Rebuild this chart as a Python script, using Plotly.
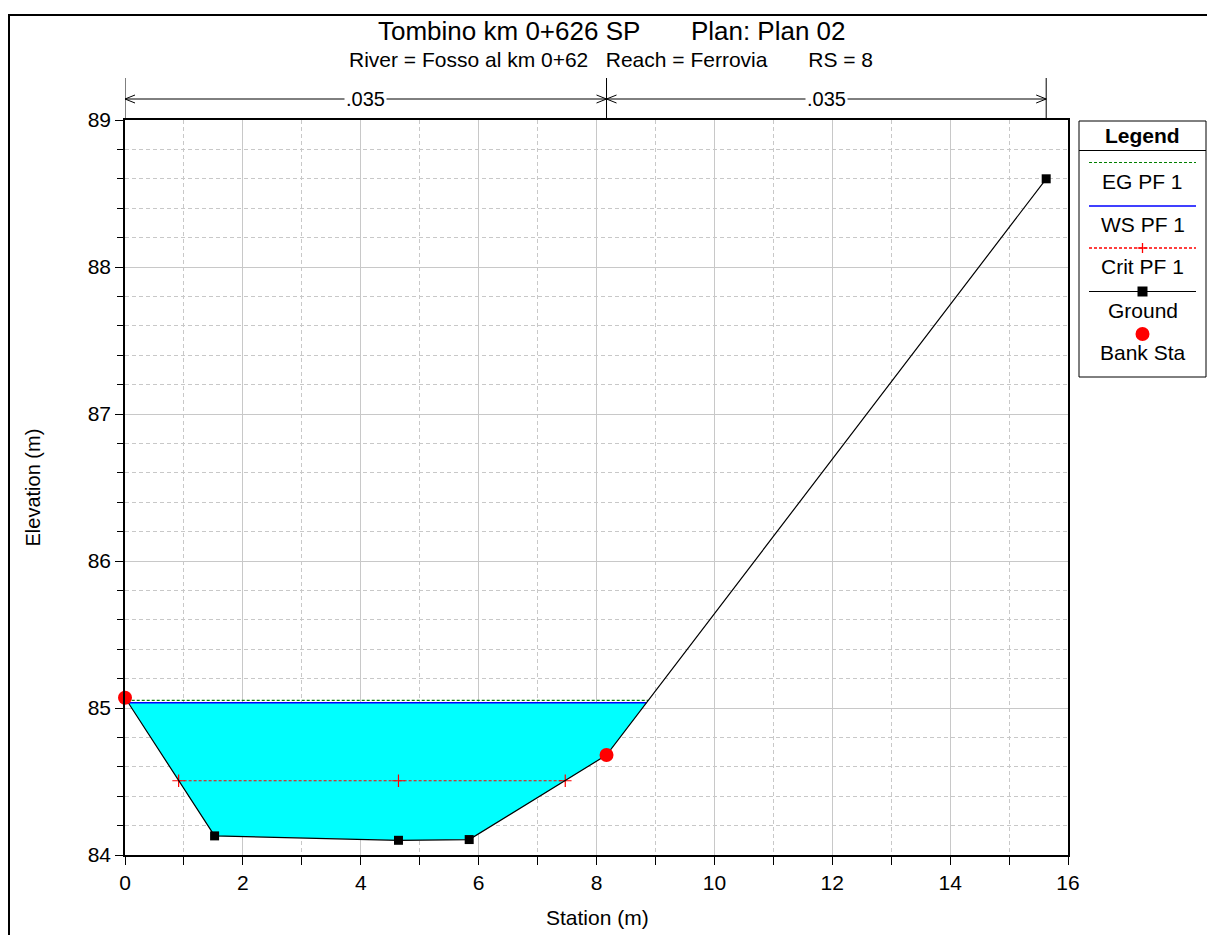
import plotly.graph_objects as go

# ---------------- data ----------------
ground_sta = [0.0, 1.52, 4.64, 5.84, 8.17, 15.63]
ground_elev = [85.07, 84.13, 84.10, 84.105, 84.68, 88.60]
bank_sta = [0.0, 8.17]
bank_elev = [85.07, 84.68]
ws_elev = 85.035
eg_elev = 85.052
crit_sta = [0.91, 4.64, 7.47]
crit_elev = [84.505, 84.505, 84.505]
n_break_sta = [0.0, 8.17, 15.63]
n_labels = [".035", ".035"]

title = "Tombino km 0+626 SP&nbsp;&nbsp;&nbsp;&nbsp;&nbsp;&nbsp;&nbsp;Plan: Plan 02"
subtitle = "River = Fosso al km 0+62&nbsp;&nbsp;&nbsp;Reach = Ferrovia&nbsp;&nbsp;&nbsp;&nbsp;&nbsp;&nbsp;&nbsp;RS = 8"
legend_items = ["EG PF 1", "WS PF 1", "Crit PF 1", "Ground", "Bank Sta"]

FONT = "Liberation Sans, Arial, sans-serif"
OFF = 8                      # page body margin
W, H = 1215 - OFF, 935 - OFF
# plot area in screen pixels
PL, PR, PT, PB = 125, 1068, 120, 855


def xp(px):
    return (px - PL) / (PR - PL)


def yp(py):
    return (PB - py) / (PB - PT)


def crossings(level):
    """stations where the ground profile crosses a horizontal level"""
    xs = []
    for i in range(len(ground_sta) - 1):
        x0, x1 = ground_sta[i], ground_sta[i + 1]
        z0, z1 = ground_elev[i], ground_elev[i + 1]
        if (z0 - level) * (z1 - level) < 0:
            xs.append(x0 + (level - z0) / (z1 - z0) * (x1 - x0))
    return xs


# water polygon: ground below ws + ws line
wx = crossings(ws_elev)
left, right = wx[0], wx[-1]
poly_x = [left]
poly_y = [ws_elev]
for s, z in zip(ground_sta, ground_elev):
    if left < s < right:
        poly_x.append(s)
        poly_y.append(z)
poly_x += [right, left]
poly_y += [ws_elev, ws_elev]

ex = crossings(eg_elev)

SMALLDASH = "3px,2px"
RED = "#FF0000"

fig = go.Figure()
fig.add_trace(go.Scatter(x=poly_x, y=poly_y, fill="toself", fillcolor="#00FFFF",
                         line=dict(width=0), mode="lines", hoverinfo="skip",
                         showlegend=False))
fig.add_trace(go.Scatter(x=[ex[0], ex[-1]], y=[eg_elev, eg_elev], mode="lines",
                         line=dict(color="#008000", width=1.2, dash=SMALLDASH),
                         name="EG PF 1", showlegend=False))
fig.add_trace(go.Scatter(x=[left, right], y=[ws_elev, ws_elev], mode="lines",
                         line=dict(color="#0000FF", width=1.5),
                         name="WS PF 1", showlegend=False))
fig.add_trace(go.Scatter(x=crit_sta, y=crit_elev, mode="lines+markers",
                         line=dict(color=RED, width=1.2, dash=SMALLDASH),
                         marker=dict(symbol="cross-thin", size=9,
                                     line=dict(color=RED, width=1.2)),
                         name="Crit PF 1", showlegend=False))
fig.add_trace(go.Scatter(x=ground_sta, y=ground_elev, mode="lines+markers",
                         line=dict(color="black", width=1.2),
                         marker=dict(symbol="square", size=9, color="black"),
                         name="Ground", showlegend=False, cliponaxis=False))
fig.add_trace(go.Scatter(x=bank_sta, y=bank_elev, mode="markers",
                         marker=dict(symbol="circle", size=14, color=RED),
                         name="Bank Sta", showlegend=False, cliponaxis=False))

shapes = []
annotations = []

# outer frame
shapes.append(dict(type="rect", xref="paper", yref="paper",
                   x0=xp(9), x1=xp(1212), y0=yp(945), y1=yp(15),
                   line=dict(color="black", width=2), layer="above"))

# Manning's n breaks
y_arrow = yp(99)
for s in n_break_sta:
    shapes.append(dict(type="line", xref="x", yref="paper", x0=s, x1=s,
                       y0=1, y1=yp(78), line=dict(color="black", width=1)))
for i, lab in enumerate(n_labels):
    a, b = n_break_sta[i], n_break_sta[i + 1]
    shapes.append(dict(type="line", xref="x", yref="paper", x0=a, x1=b,
                       y0=y_arrow, y1=y_arrow, line=dict(color="black", width=1)))
    for tip, d in ((a, 1), (b, -1)):
        for dy in (-4, 4):
            shapes.append(dict(type="line", xref="x", yref="paper",
                               xsizemode="pixel", ysizemode="pixel",
                               xanchor=tip, yanchor=y_arrow,
                               x0=0, x1=d * 10, y0=0, y1=dy,
                               line=dict(color="black", width=1)))
    annotations.append(dict(x=(a + b) / 2, y=y_arrow, xref="x", yref="paper",
                            text=lab, showarrow=False, bgcolor="white",
                            font=dict(family=FONT, size=20, color="black"),
                            xanchor="center", yanchor="middle", borderpad=1))

# titles
annotations.append(dict(x=xp(612), y=yp(31), xref="paper", yref="paper",
                        text=title, showarrow=False,
                        font=dict(family=FONT, size=26, color="black"),
                        xanchor="center", yanchor="middle"))
annotations.append(dict(x=xp(611), y=yp(59), xref="paper", yref="paper",
                        text=subtitle, showarrow=False,
                        font=dict(family=FONT, size=21, color="black"),
                        xanchor="center", yanchor="middle"))
annotations.append(dict(x=xp(32), y=0.5, xref="paper", yref="paper",
                        text="Elevation (m)", showarrow=False, textangle=-90,
                        font=dict(family=FONT, size=20, color="black"),
                        xanchor="center", yanchor="middle"))
annotations.append(dict(x=xp(597), y=yp(918), xref="paper", yref="paper",
                        text="Station (m)", showarrow=False,
                        font=dict(family=FONT, size=21, color="black"),
                        xanchor="center", yanchor="middle"))

# custom legend
LX0, LX1, LY0, LY1 = 1079, 1206, 121, 377
shapes.append(dict(type="rect", xref="paper", yref="paper",
                   x0=xp(LX0), x1=xp(LX1), y0=yp(LY1), y1=yp(LY0),
                   line=dict(color="black", width=1), fillcolor="white"))
shapes.append(dict(type="line", xref="paper", yref="paper",
                   x0=xp(LX0), x1=xp(LX1), y0=yp(150.5), y1=yp(150.5),
                   line=dict(color="black", width=1)))
lc = (LX0 + LX1) / 2
annotations.append(dict(x=xp(lc), y=yp(135), xref="paper", yref="paper",
                        text="<b>Legend</b>", showarrow=False,
                        font=dict(family=FONT, size=21, color="black"),
                        xanchor="center", yanchor="middle"))
sample_y = [162.5, 206, 248, 291.5, 334]
text_y = [181.5, 224.5, 266.5, 310, 352.5]
sx0, sx1 = 1089, 1196
# EG
shapes.append(dict(type="line", xref="paper", yref="paper", x0=xp(sx0), x1=xp(sx1),
                   y0=yp(sample_y[0]), y1=yp(sample_y[0]),
                   line=dict(color="#008000", width=1.2, dash=SMALLDASH)))
# WS
shapes.append(dict(type="line", xref="paper", yref="paper", x0=xp(sx0), x1=xp(sx1),
                   y0=yp(sample_y[1]), y1=yp(sample_y[1]),
                   line=dict(color="#0000FF", width=1.5)))
# Crit
shapes.append(dict(type="line", xref="paper", yref="paper", x0=xp(sx0), x1=xp(sx1),
                   y0=yp(sample_y[2]), y1=yp(sample_y[2]),
                   line=dict(color=RED, width=1.3, dash=SMALLDASH)))
shapes.append(dict(type="line", xref="paper", yref="paper", x0=xp(lc), x1=xp(lc),
                   y0=yp(sample_y[2] - 5), y1=yp(sample_y[2] + 5),
                   line=dict(color=RED, width=1.3)))
shapes.append(dict(type="line", xref="paper", yref="paper", x0=xp(lc - 5), x1=xp(lc + 5),
                   y0=yp(sample_y[2]), y1=yp(sample_y[2]),
                   line=dict(color=RED, width=1.3)))
# Ground
shapes.append(dict(type="line", xref="paper", yref="paper", x0=xp(sx0), x1=xp(sx1),
                   y0=yp(sample_y[3]), y1=yp(sample_y[3]),
                   line=dict(color="black", width=1.2)))
shapes.append(dict(type="rect", xref="paper", yref="paper",
                   x0=xp(lc - 5), x1=xp(lc + 5),
                   y0=yp(sample_y[3] + 5), y1=yp(sample_y[3] - 5),
                   line=dict(color="black", width=0), fillcolor="black"))
# Bank
shapes.append(dict(type="circle", xref="paper", yref="paper",
                   x0=xp(lc - 7), x1=xp(lc + 7),
                   y0=yp(sample_y[4] + 7), y1=yp(sample_y[4] - 7),
                   line=dict(color=RED, width=0), fillcolor=RED))
for t, ty in zip(legend_items, text_y):
    annotations.append(dict(x=xp(lc), y=yp(ty), xref="paper", yref="paper",
                            text=t, showarrow=False,
                            font=dict(family=FONT, size=21, color="black"),
                            xanchor="center", yanchor="middle"))

grid_major = "#C8C8C8"
GRIDDASH = "4px,3px"
fig.update_layout(
    width=W, height=H,
    margin=dict(l=PL - OFF, r=W - (PR - OFF), t=PT - OFF, b=H - (PB - OFF), pad=0),
    paper_bgcolor="white", plot_bgcolor="white",
    font=dict(family=FONT, size=20, color="black"),
    showlegend=False,
    shapes=shapes, annotations=annotations,
    xaxis=dict(range=[0, 16], dtick=2, tick0=0, showgrid=True, gridcolor=grid_major,
               gridwidth=1, zeroline=False, showline=True, linecolor="black",
               linewidth=1.5, mirror=True, ticks="outside", ticklen=8,
               tickcolor="black", tickwidth=1,
               tickfont=dict(family=FONT, size=21, color="black"),
               minor=dict(dtick=1, ticks="outside", ticklen=8, tickcolor="black",
                          showgrid=True, gridcolor=grid_major, griddash=GRIDDASH,
                          gridwidth=1)),
    yaxis=dict(range=[84, 89], dtick=1, tick0=84, showgrid=True, gridcolor=grid_major,
               gridwidth=1, zeroline=False, showline=True, linecolor="black",
               linewidth=1.5, mirror=True, ticks="outside", ticklen=8,
               tickcolor="black", tickwidth=1,
               tickfont=dict(family=FONT, size=21, color="black"),
               minor=dict(dtick=0.2, ticks="outside", ticklen=6, tickcolor="black",
                          showgrid=True, gridcolor=grid_major, griddash=GRIDDASH,
                          gridwidth=1)),
)

fig.write_html("out.html")
